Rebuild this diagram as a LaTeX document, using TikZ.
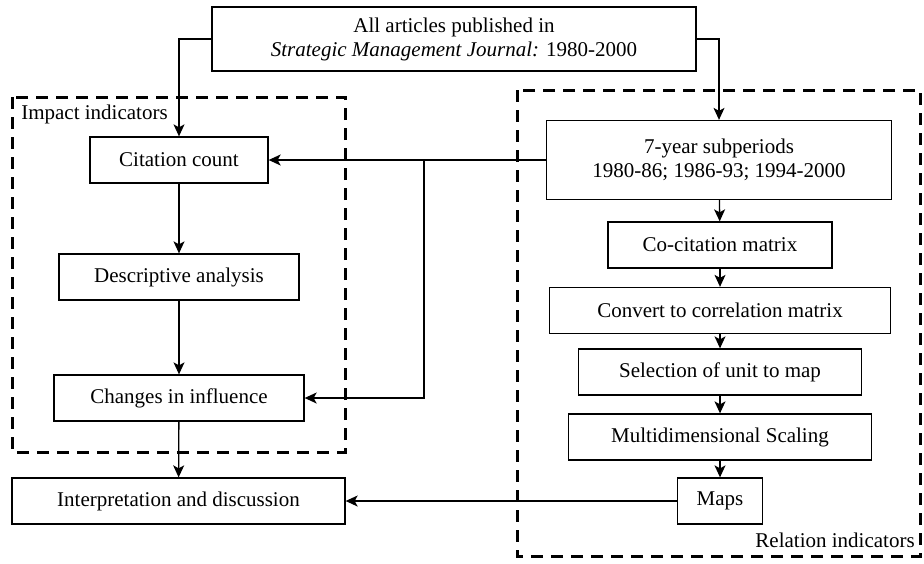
\documentclass[tikz,border=0pt]{standalone}
\usepackage{fontspec}
\setmainfont{Liberation Serif}
\usetikzlibrary{arrows.meta}
\begin{document}
\begin{tikzpicture}[x=0.5pt,y=-0.5pt,font=\fontsize{10.5}{12}\selectfont,
  >={Stealth[length=6pt,width=5.5pt,inset=1.5pt]},line width=0.65pt,
  box/.style={draw,inner sep=0pt,align=center,minimum height=23pt},
  group/.style={line width=1.5pt,dash pattern=on 6pt off 4pt}]
\useasboundingbox (0,0) rectangle (924,563);
% groups
\draw [group] (12,97) rectangle (345,452);
\draw [group] (517,90) rectangle (920,556);
\node [anchor=west] (imp) at (14,114) {Impact indicators};
\node [anchor=east] (rel) at (922,540) {Relation indicators};
% boxes
\node [box,minimum width=242pt,minimum height=32pt] (top) at (454,39) {All articles published in\\\textit{Strategic Management Journal:} 1980-2000};
\node [box,minimum width=89pt] (cite) at (179,160) {Citation count};
\node [box,minimum width=120pt] (descr) at (179,277) {Descriptive analysis};
\node [box,minimum width=125pt] (change) at (179,398) {Changes in influence};
\node [box,minimum width=166.5pt] (interp) at (178.5,501) {Interpretation and discussion};
\node [box,minimum width=172.5pt,minimum height=39.5pt] (sub) at (719,160) {7-year subperiods\\1980-86; 1986-93; 1994-2000};
\node [box,minimum width=112pt] (cocit) at (720,245) {Co-citation matrix};
\node [box,minimum width=170.5pt] (corr) at (720,310.5) {Convert to correlation matrix};
\node [box,minimum width=141.5pt] (select) at (720,372) {Selection of unit to map};
\node [box,minimum width=151.5pt] (mds) at (720,437) {Multidimensional Scaling};
\node [box,minimum width=42.5pt] (maps) at (720,501) {Maps};
% arrows
\draw [->] (top.west) -| (cite.north);
\draw [->] (top.east) -| (sub.north);
\draw [->] (cite) -- (descr);
\draw [->] (descr) -- (change);
\draw [->] (change) -- (interp);
\draw [->] (sub.west) -- (cite.east);
\coordinate (fork) at (424,160);
\draw [->] (fork) |- (change.east);
\draw [->] (sub) -- (cocit);
\draw [->] (cocit) -- (corr);
\draw [->] (corr) -- (select);
\draw [->] (select) -- (mds);
\draw [->] (mds) -- (maps);
\draw [->] (maps) -- (interp);
\end{tikzpicture}
\end{document}
